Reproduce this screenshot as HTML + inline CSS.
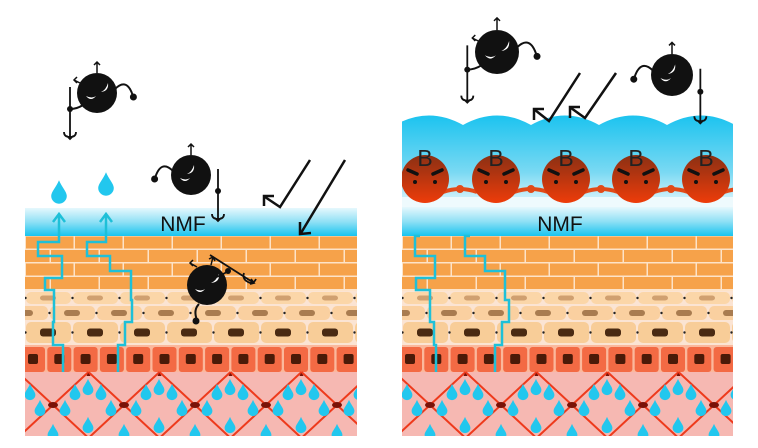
<!DOCTYPE html>
<html><head><meta charset="utf-8"><style>
html,body{margin:0;padding:0;background:#fff;width:758px;height:448px;overflow:hidden}
svg{display:block}
</style></head><body>
<svg id="s" width="758" height="448" viewBox="0 0 758 448" xmlns="http://www.w3.org/2000/svg">
<defs>
<linearGradient id="nmf" x1="0" y1="0" x2="0" y2="1">
<stop offset="0" stop-color="#e6f8fd"/><stop offset="0.5" stop-color="#8fe0f5"/><stop offset="1" stop-color="#18c4ef"/>
</linearGradient>
<linearGradient id="bub" x1="0" y1="0" x2="0" y2="1">
<stop offset="0" stop-color="#1cc3ef"/><stop offset="0.6" stop-color="#7ad9f3"/><stop offset="1" stop-color="#f2fbfe"/>
</linearGradient>
<linearGradient id="ball2" x1="0" y1="0" x2="0" y2="1">
<stop offset="0" stop-color="#8a3014"/><stop offset="1" stop-color="#ee3c0a"/>
</linearGradient>
<clipPath id="cl"><rect x="25" y="0" width="332" height="436"/></clipPath>
<clipPath id="cr"><rect x="402" y="0" width="331" height="436"/></clipPath>
</defs>
<g id="L" clip-path="url(#cl)"></g>
<g id="R" clip-path="url(#cr)"></g>
<g id="top"></g>
</svg>
<script>
const NS="http://www.w3.org/2000/svg";
function el(p,t,a,txt){const e=document.createElementNS(NS,t);for(const k in a)e.setAttribute(k,a[k]);if(txt)e.textContent=txt;p.appendChild(e);return e;}
function drop(g,x,y,s){s=s||1;el(g,'path',{d:`M${x} ${y-9*s} C${x+2*s} ${y-4*s} ${x+6*s} ${y} ${x+6*s} ${y+3*s} A${6*s} ${6*s} 0 0 1 ${x-6*s} ${y+3*s} C${x-6*s} ${y} ${x-2*s} ${y-4*s} ${x} ${y-9*s}Z`,fill:'#22c7ee'});}
function skin(g,x0,nmfTop){
  el(g,'rect',{x:x0,y:nmfTop,width:340,height:236-nmfTop,fill:'url(#nmf)'});
  el(g,'rect',{x:x0,y:236,width:340,height:56,fill:'#fde3c8'});
  for(let r=0;r<4;r++){const y=236+r*13.5;const off=(r%2)?-24:0;
    for(let x=x0+off-48;x<x0+340;x+=49) el(g,'rect',{x:x,y:y+0.5,width:47.5,height:12,fill:'#f6a24a'});}
  el(g,'rect',{x:x0,y:291,width:340,height:55,fill:'#fbe4d3'});
  const rows=[[292,12,'#fbd6a8','#d0a070',5],[306,14,'#fad0a0','#a97c50',6],[322,21,'#f8cd98','#4a2a12',8]];
  rows.forEach((rw,i)=>{const off=(i%2)?-23:0;
    for(let x=x0+off-47;x<x0+340;x+=47){el(g,'rect',{x:x+1,y:rw[0],width:45,height:rw[1],rx:5,fill:rw[2]});
      el(g,'rect',{x:x+15,y:rw[0]+rw[1]/2-rw[4]/2,width:16,height:rw[4],rx:3,fill:rw[3]});
      el(g,'circle',{cx:x+0.5,cy:rw[0]+rw[1]/2,r:1.2,fill:'#222'});}});
  el(g,'rect',{x:x0,y:345,width:340,height:28,fill:'#fbb89c'});
  for(let x=x0-4;x<x0+340;x+=26.3){el(g,'rect',{x:x,y:347,width:24,height:25,rx:3,fill:'#f36a44'});
    el(g,'rect',{x:x+7,y:354,width:10,height:10,rx:2,fill:'#4a1a08'});}
  el(g,'rect',{x:x0,y:372,width:340,height:64,fill:'#f6b8b2'});
  const P=71,base=x0+28;
  for(let k=-3;k<8;k++){const cx=base+k*P;
    el(g,'path',{d:`M${cx-35.5} 372 L${cx+35.5} 438 M${cx+35.5} 372 L${cx-35.5} 438`,stroke:'#ee3a1c','stroke-width':2,fill:'none'});
    el(g,'ellipse',{cx:cx,cy:405,rx:5,ry:3,fill:'#7a1208'});
    el(g,'path',{d:`M${cx+35.5} 372 l-2 4 h4z`,fill:'#7a1208'});}
  for(let k=-1;k<6;k++){const cx=base+k*P;
    [[0,432],[35,387],[12,408],[58,408],[35,425],[22,392],[48,392]].forEach(p=>drop(g,cx+p[0],p[1],0.9));}
}
const L=document.getElementById('L'),R=document.getElementById('R'),T=document.getElementById('top');
skin(L,25,208);
skin(R,402,208);
el(R,'rect',{x:402,y:130,width:340,height:80,fill:'url(#bub)'});
let d='M395 210 L395 125';
for(let x=395;x<745;x+=68){d+=` Q${x+34} ${106} ${x+68} 125`;}
d+=' L745 210Z';
el(R,'path',{d:d,fill:'url(#bub)'});
el(R,'rect',{x:402,y:197,width:331,height:12,fill:'#eefafd'});
el(R,'rect',{x:402,y:207,width:331,height:29,fill:'url(#nmf)'});
const BX=[425,496,566,636,706];
BX.forEach(cx=>{
  el(R,'path',{d:`M${cx+18} 192 Q${cx+35} 186 ${cx+52} 192`,stroke:'#e24a18','stroke-width':4,fill:'none'});
  el(R,'circle',{cx:cx+35,cy:189,r:4,fill:'#e24a18'});
});
BX.forEach(cx=>{
  el(R,'circle',{cx:cx,cy:179,r:24,fill:'url(#ball2)'});
  el(R,'path',{d:`M${cx-17} 170 l9 4 M${cx+17} 170 l-9 4`,stroke:'#111','stroke-width':3.5,'stroke-linecap':'round'});
  el(R,'circle',{cx:cx-10,cy:182,r:2,fill:'#111'});el(R,'circle',{cx:cx+10,cy:182,r:2,fill:'#111'});
  el(R,'text',{x:cx,y:166,'text-anchor':'middle','font-family':'Liberation Sans, sans-serif','font-size':23,fill:'#222'},'B');
});
el(T,'text',{x:183,y:231,'text-anchor':'middle','font-family':'Liberation Sans, sans-serif','font-size':21,fill:'#111'},'NMF');
el(T,'text',{x:560,y:231,'text-anchor':'middle','font-family':'Liberation Sans, sans-serif','font-size':21,fill:'#111'},'NMF');
function zig(g,pts){el(g,'polyline',{points:pts.map(p=>p.join(',')).join(' '),fill:'none',stroke:'#1ec0d8','stroke-width':2.5});}
zig(T,[[59,214],[59,242],[38,242],[38,256],[62,256],[62,278],[45,278],[45,290],[54,290],[54,322],[53,322],[53,345],[63,345],[63,372]]);
zig(T,[[106,214],[106,242],[87,242],[87,256],[110,256],[110,271],[131,271],[131,300],[132,300],[132,322],[125,322],[125,345],[118,345],[118,372]]);
el(T,'path',{d:'M53 222 l6 -8 l6 8 M100 222 l6 -8 l6 8',stroke:'#1ec0d8','stroke-width':2.5,fill:'none'});
drop(T,59,192,1.3);drop(T,106,184,1.3);
zig(T,[[420,236],[415,236],[415,256],[435,256],[435,278],[416,278],[416,290],[430,290],[430,322],[434,322],[434,345],[436,345],[436,372]]);
zig(T,[[470,236],[465,236],[465,256],[485,256],[485,271],[505,271],[505,300],[509,300],[509,322],[502,322],[502,345],[495,345],[495,372]]);
function ray(g,pts,head){el(g,'polyline',{points:pts.map(p=>p.join(',')).join(' '),fill:'none',stroke:'#111','stroke-width':2.5});
  el(g,'path',{d:head,fill:'none',stroke:'#111','stroke-width':2.5});}
ray(T,[[310,160],[280,207],[265,197]],'M264 206 L264 196 L274 196');
ray(T,[[345,160],[301,233]],'M300 222 L300 234 L311 233');
ray(T,[[580,73],[549,121],[535,110]],'M534 120 L534 109 L544 109');
ray(T,[[616,73],[585,118],[571,108]],'M570 118 L570 107 L580 107');
function germ(g,cx,cy,r,face){
  const f=face||1;
  el(g,'circle',{cx:cx,cy:cy,r:r,fill:'#111'});
  el(g,'path',{d:`M${cx-r*0.55} ${cy+r*0.15} q${r*0.3} ${r*0.15} ${r*0.5} 0 q-${r*0.25} ${r*0.3} -${r*0.5} 0z`,fill:'#fff'});
  el(g,'path',{d:`M${cx+r*0.2*f} ${cy-r*0.05} q${r*0.25} -${r*0.1} ${r*0.35} -${r*0.45} q${r*0.05} ${r*0.4} -${r*0.35} ${r*0.45}z`,fill:'#fff'});
  el(g,'path',{d:`M${cx} ${cy-r} v-${r*0.55} m-3 3 l3 -3 l3 3`,stroke:'#111','stroke-width':1.5,fill:'none'});
  el(g,'path',{d:`M${cx-r*0.85*f} ${cy-r*0.5} l-${6*f} -3 m${3*f} -3 l-${3*f} 3 l${3*f} 3`,stroke:'#111','stroke-width':1.5,fill:'none'});
  el(g,'path',{d:`M${cx+r*0.9*f} ${cy-r*0.2} q${r*0.6*f} -${r*0.6} ${r*0.9*f} ${r*0.35}`,stroke:'#111','stroke-width':2,fill:'none'});
  el(g,'circle',{cx:cx+r*1.82*f,cy:cy+r*0.2,r:3.5,fill:'#111'});
  const tx=cx-r*1.35*f;
  el(g,'path',{d:`M${cx-r*0.7*f} ${cy+r*0.6} q-${r*0.3*f} ${r*0.2} -${r*0.65*f} ${r*0.2}`,stroke:'#111','stroke-width':2,fill:'none'});
  el(g,'circle',{cx:tx,cy:cy+r*0.8,r:3,fill:'#111'});
  el(g,'path',{d:`M${tx} ${cy-r*0.3} V${cy+r*2.3} m-6 -7 q0 5 6 5 q6 0 6 -5 M${tx-3} ${cy+r*2.3-3} l3 3 l3 -3`,stroke:'#111','stroke-width':1.8,fill:'none'});
}
germ(T,97,93,20,1);
germ(T,191,175,20,-1);
germ(T,497,52,22,1);
germ(T,672,75,21,-1);
(function(){const cx=207,cy=285,r=20;
 el(T,'circle',{cx:cx,cy:cy,r:r,fill:'#111'});
 el(T,'path',{d:`M${cx-12} ${cy+4} q6 3 10 0 q-5 6 -10 0z M${cx+4} ${cy-2} q5 -2 8 -9 q1 8 -8 9z`,fill:'#fff'});
 el(T,'path',{d:`M${cx-8} ${cy+r-1} q-6 6 -2 16`,stroke:'#111','stroke-width':2,fill:'none'});
 el(T,'circle',{cx:cx-11,cy:cy+36,r:3.5,fill:'#111'});
 el(T,'path',{d:`M${cx-10} ${cy-r+2} l-7 -4 m3 -3 l-3 3 l3 3 M${cx+4} ${cy-r} l2 -8 m-4 2 l4 -2 l2 4`,stroke:'#111','stroke-width':1.5,fill:'none'});
 el(T,'path',{d:`M${cx+10} ${cy-8} l10 -5 M${cx+3} ${cy-30} L${cx+47} ${cy-2} m-10 -10 q-2 6 4 9 q5 3 8 -3 M${cx+44} ${cy-6} l3 4 l-4 1`,stroke:'#111','stroke-width':1.8,fill:'none'});
 el(T,'circle',{cx:cx+21,cy:cy-14,r:3,fill:'#111'});
})();
</script>
</body></html>
